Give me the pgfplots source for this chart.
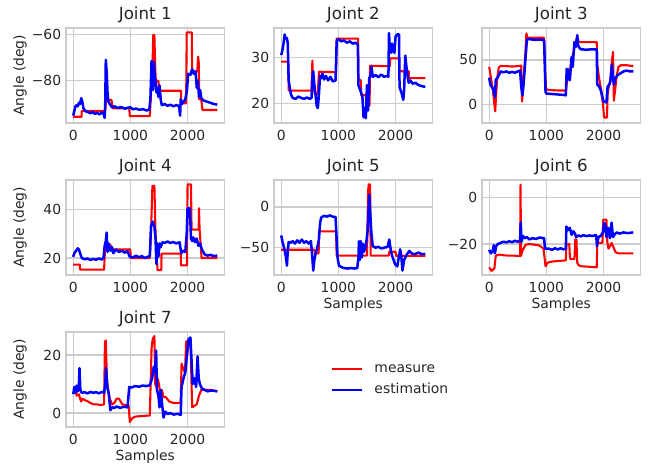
\documentclass[border=0pt]{standalone}
\usepackage{fontspec}
\setmainfont{DejaVu Sans}
\usepackage{pgfplots}
\pgfplotsset{compat=1.18}

\definecolor{gridc}{HTML}{CCCCCC}
\definecolor{txt}{HTML}{262626}
\definecolor{meas}{HTML}{FF0000}
\definecolor{esti}{HTML}{0000FF}

\pgfplotsset{
  joint/.style={
    scale only axis, width=114.12pt, height=68.26pt,
    anchor=north west,
    xmin=-126, xmax=2646,
    xtick={0,1000,2000},
    grid=major,
    major grid style={line width=1pt, color=gridc},
    axis line style={line width=1.25pt, color=gridc},
    major tick length=0pt,
    tick style={draw=none},
    tick label style={font=\fontsize{10}{12}\selectfont, text=txt},
    xticklabel style={yshift=-2pt},
    /pgf/number format/assume math mode=true,
    /pgf/number format/1000 sep={},
    every axis title shift=0pt,
    title style={font=\fontsize{12}{14}\selectfont, text=txt,
      at={(axis description cs:0.5,1.135)}, anchor=center},
    label style={font=\fontsize{10}{12}\selectfont, text=txt},
    ylabel style={at={(axis description cs:-0.29,0.5)}, anchor=center},
    xlabel style={at={(axis description cs:0.5,-0.31)}, anchor=center},
    every axis plot/.append style={line width=1.5pt, line join=round},
  },
}

\begin{document}
\begin{tikzpicture}
\path (0pt,0pt) rectangle (467.28pt,-335.52pt);

% Joint 1
\begin{axis}[joint, at={(47.52pt,-20.16pt)}, title={Joint 1},
  ylabel={Angle (deg)}, ymin=-98.1, ymax=-57.3,
  ytick={-80,-60}, yticklabels={−80,−60}]
\addplot[meas] coordinates {(0,-95.5) (145,-95.5) (150,-93) (560,-93) (575,-88.3) (670,-88.3) (690,-91.9) (980,-91.9) (990,-95.2) (1340,-95.2) (1360,-85) (1385,-75) (1400,-60.3) (1420,-60.3) (1435,-75) (1445,-80) (1490,-80) (1500,-84.3) (1885,-84.3) (1890,-89.7) (1975,-89.7) (1985,-59.2) (2075,-59.2) (2080,-76) (2170,-76) (2185,-69.6) (2195,-72) (2205,-88) (2240,-88) (2260,-92.6) (2520,-92.6)};
\addplot[esti, line width=1.8pt] coordinates {(0,-95) (20,-93) (40,-91) (60,-90.5) (80,-91) (100,-89.5) (120,-90) (140,-87.5) (160,-89) (180,-92) (220,-93.2) (260,-93.5) (300,-94) (340,-93.5) (380,-94.3) (420,-93.8) (460,-94.5) (500,-93.6) (530,-94.2) (550,-96) (560,-90) (570,-71) (585,-76) (600,-85) (615,-89) (640,-90) (680,-91.5) (720,-91) (780,-91.7) (840,-91.3) (900,-92) (960,-91.6) (1000,-91.4) (1040,-92.3) (1100,-92) (1160,-92.5) (1220,-92.2) (1280,-92.8) (1330,-92.5) (1350,-88) (1370,-71.5) (1385,-73) (1395,-84) (1410,-72) (1425,-78) (1440,-80) (1455,-85) (1470,-83) (1490,-87) (1510,-82) (1530,-88) (1550,-90.5) (1600,-90) (1650,-90.8) (1700,-90.3) (1750,-91) (1800,-90.5) (1850,-90.8) (1870,-95) (1880,-88) (1900,-90) (1930,-89) (1960,-88) (1990,-84) (2010,-77) (2050,-77.5) (2080,-75) (2110,-77) (2140,-76) (2160,-83) (2180,-80) (2200,-87) (2220,-84) (2240,-87.5) (2280,-88.5) (2340,-89) (2400,-89.5) (2460,-90) (2520,-90.3)};
\end{axis}

% Joint 2
\begin{axis}[joint, at={(197.28pt,-20.16pt)}, title={Joint 2},
  ymin=15.8, ymax=36.4, ytick={20,30}]
\addplot[meas] coordinates {(0,29.1) (125,29.1) (130,22.8) (530,22.8) (545,29.3) (560,24) (590,22) (640,22) (660,26.9) (960,26.8) (970,34.1) (1345,34.1) (1350,25.1) (1390,25.1) (1400,21.8) (1480,21.8) (1490,19.6) (1545,19.6) (1555,28.2) (1900,28.1) (1905,29.8) (2060,29.8) (2065,27) (2230,27) (2235,25.5) (2520,25.5)};
\addplot[esti, line width=1.8pt] coordinates {(0,30.5) (20,31.5) (40,33) (60,35) (80,34) (100,34.2) (115,33) (130,25) (150,23.5) (170,22) (200,21.2) (250,21) (300,21.5) (350,21.2) (400,21) (450,21.3) (500,21) (530,21.2) (545,25.5) (560,27) (580,24) (600,22) (620,19.5) (640,19) (660,22) (680,26) (700,25.5) (720,26.5) (750,25.2) (780,26) (820,25) (860,25.8) (900,24.8) (950,25) (970,33.5) (1000,34) (1050,33.5) (1100,33.7) (1150,33.2) (1200,33.5) (1250,33) (1300,33.2) (1340,32.8) (1350,24) (1380,23) (1420,21.5) (1440,17) (1460,19) (1480,16.8) (1500,24) (1520,18.5) (1540,25.5) (1560,26) (1580,28) (1600,25.8) (1650,26.2) (1700,25.7) (1750,26.3) (1800,25.8) (1850,26) (1875,25.8) (1885,35.3) (1900,32) (1920,31) (1940,33) (1960,31.5) (1980,31) (2000,34.5) (2030,35) (2060,35) (2070,23.5) (2100,22.5) (2120,21.5) (2135,20.8) (2150,23) (2170,30.4) (2190,28) (2210,26) (2230,24.5) (2260,25) (2300,24.3) (2350,24.5) (2400,24) (2450,23.8) (2520,23.6)};
\end{axis}

% Joint 3
\begin{axis}[joint, at={(347.04pt,-20.16pt)}, title={Joint 3},
  ymin=-21, ymax=86, ytick={0,50}]
\addplot[meas] coordinates {(0,42) (30,30) (60,18) (90,0) (105,-8) (120,10) (140,30) (170,42) (200,43) (300,43) (400,42.5) (500,43) (560,43.5) (575,3) (600,25) (630,55) (650,80) (670,75) (960,75) (975,40) (995,17) (1050,16) (1200,15.5) (1340,15.5) (1360,25) (1380,40) (1400,30) (1430,45) (1460,55) (1480,60) (1510,70) (1540,76) (1570,70) (1700,70) (1880,70) (1890,45) (1920,30) (1960,15) (1990,0) (2010,-15) (2060,-15) (2070,10) (2090,20) (2120,25) (2140,45) (2165,59) (2180,4) (2200,15) (2230,32) (2260,42) (2300,44) (2400,44) (2520,43)};
\addplot[esti, line width=1.8pt] coordinates {(0,30) (20,22) (40,20) (70,17) (100,8) (115,28) (140,29) (170,33) (200,37) (250,36) (300,37) (350,35.5) (400,36.5) (450,35.5) (500,37) (540,38) (560,20) (580,10) (600,22) (630,48) (660,73) (700,73.5) (800,72.5) (900,73) (960,72) (985,14) (1000,12) (1100,11.5) (1200,11) (1300,10.5) (1340,10) (1355,40) (1375,28) (1390,38) (1410,27) (1440,53) (1460,42) (1490,70) (1520,65) (1540,78) (1555,66) (1575,64) (1600,62) (1700,61.5) (1800,62) (1880,62) (1890,22) (1920,20) (1950,16) (1980,8) (2000,3) (2050,2) (2070,20) (2100,22) (2120,27) (2145,45) (2165,30) (2180,22) (2210,30) (2250,33) (2300,35) (2350,37) (2400,38) (2460,37) (2520,37)};
\end{axis}

% Joint 4
\begin{axis}[joint, at={(47.52pt,-129.6pt)}, title={Joint 4},
  ylabel={Angle (deg)}, ymin=13.1, ymax=52.1, ytick={20,40}]
\addplot[meas] coordinates {(0,17.3) (115,17.3) (120,15.2) (540,15.2) (555,23) (570,26) (590,25.5) (650,25.5) (670,23.5) (1000,23.5) (1005,20) (1340,20) (1360,30) (1385,49.7) (1420,49.7) (1440,30) (1460,22) (1475,15) (1540,15) (1545,21.8) (1880,21.8) (1885,17) (1990,17) (2000,50.3) (2060,50.3) (2070,31.7) (2195,31.7) (2200,40.5) (2210,32) (2245,20) (2520,20)};
\addplot[esti, line width=1.8pt] coordinates {(0,20.5) (20,22) (50,23) (80,24) (100,23.5) (120,22) (150,20) (200,19.5) (250,19.8) (300,19.2) (350,19.6) (400,19.3) (450,19.8) (500,19.4) (530,20) (550,25) (570,27) (585,30.5) (600,22.5) (620,26) (650,23) (680,24.5) (700,22) (750,23.5) (800,22.5) (850,23) (900,22.2) (950,22.8) (990,20.5) (1050,20.3) (1100,21) (1150,20.3) (1200,20.8) (1250,20) (1300,20.5) (1340,20.8) (1360,33) (1390,35) (1420,33) (1440,28) (1455,17.5) (1470,26) (1490,20.5) (1510,26) (1530,24.5) (1560,26.5) (1600,26.2) (1650,26.8) (1700,26.2) (1750,26.6) (1800,26) (1860,26.5) (1890,22) (1920,23) (1960,22.5) (1985,30) (2000,40.5) (2040,40.5) (2060,28) (2080,27) (2100,28.5) (2130,26.5) (2160,28) (2190,25) (2220,26) (2250,23.5) (2300,21.5) (2350,21) (2400,21.3) (2460,20.8) (2520,21)};
\end{axis}

% Joint 5
\begin{axis}[joint, at={(197.28pt,-129.6pt)}, title={Joint 5},
  xlabel={Samples}, ymin=-83.2, ymax=32.8,
  ytick={-50,0}, yticklabels={−50,0}]
\addplot[meas] coordinates {(0,-52.5) (580,-52.5) (590,-57) (655,-57) (660,-30) (960,-30) (970,-59.8) (1500,-59.8) (1520,20) (1530,27.5) (1555,27.5) (1565,-59.8) (1880,-59.8) (1890,-55) (2000,-55) (2010,-60) (2520,-60)};
\addplot[esti, line width=1.8pt] coordinates {(0,-35) (20,-42) (50,-50) (80,-60) (100,-72) (115,-55) (130,-43) (170,-44) (200,-42) (240,-45) (280,-41) (320,-44) (360,-40) (400,-44) (440,-42) (480,-45) (520,-42) (540,-58) (560,-78) (580,-65) (600,-58) (630,-50) (660,-40) (680,-20) (700,-13) (750,-11) (800,-12) (850,-10.5) (900,-12) (950,-12.5) (970,-40) (985,-62) (1010,-72) (1060,-74) (1100,-75) (1160,-75.5) (1220,-75) (1280,-75.5) (1330,-75) (1350,-62) (1360,-42) (1375,-65) (1390,-42) (1410,-62) (1430,-45) (1450,-55) (1480,-48) (1510,-30) (1540,15) (1555,-5) (1575,-30) (1600,-48) (1650,-50) (1700,-49) (1750,-51) (1800,-50) (1860,-49) (1890,-40) (1920,-55) (1950,-62) (1990,-70) (2030,-73) (2060,-60) (2080,-52) (2100,-60) (2120,-78) (2150,-65) (2170,-62) (2200,-58) (2240,-54) (2280,-57) (2330,-58) (2400,-56) (2460,-58) (2520,-57.5)};
\end{axis}

% Joint 6
\begin{axis}[joint, at={(347.04pt,-129.6pt)}, title={Joint 6},
  xlabel={Samples}, ymin=-33.2, ymax=7.5,
  ytick={-20,0}, yticklabels={−20,0}]
\addplot[meas] coordinates {(0,-30) (40,-31.5) (90,-30.5) (115,-25) (170,-24.5) (250,-24.8) (350,-25) (450,-25) (540,-25.2) (548,5.5) (556,-25) (580,-23) (620,-21) (640,-20.3) (700,-20) (800,-20.3) (860,-20.5) (900,-21) (950,-22) (985,-29.5) (1020,-28) (1100,-27.5) (1200,-27.3) (1340,-27) (1350,-20) (1400,-20) (1410,-25) (1420,-26.5) (1490,-26.5) (1505,-18) (1525,-18) (1540,-28) (1560,-29) (1600,-29.5) (1880,-30) (1890,-19.5) (1980,-19.5) (1995,-9.5) (2050,-9.5) (2065,-19) (2085,-22) (2100,-21.5) (2140,-19.5) (2180,-21.8) (2210,-23.5) (2260,-24) (2520,-24)};
\addplot[esti, line width=1.8pt] coordinates {(0,-22.5) (30,-24) (60,-23) (80,-20.5) (100,-24) (120,-21) (150,-20) (200,-19.5) (250,-19) (300,-19.3) (350,-18.8) (400,-19.2) (450,-18.6) (500,-19) (540,-18.5) (552,-10.7) (565,-19) (590,-16.5) (620,-17.5) (660,-17) (700,-18) (760,-17.5) (820,-17.8) (880,-17.2) (960,-17.5) (975,-22) (1050,-22) (1100,-22.5) (1150,-21.8) (1200,-22.3) (1250,-21.8) (1300,-22.3) (1340,-22) (1350,-12.5) (1380,-14) (1410,-13) (1440,-16) (1470,-14.5) (1500,-15.5) (1520,-17) (1560,-16.3) (1600,-16.7) (1650,-16.2) (1700,-16.6) (1750,-16.3) (1800,-16.5) (1870,-16.2) (1885,-21) (1910,-17) (1950,-16.5) (1990,-15) (2010,-11) (2030,-11.5) (2050,-17) (2080,-13) (2110,-17.5) (2140,-10.8) (2165,-17) (2190,-16) (2230,-15) (2280,-15.5) (2350,-15) (2420,-15.3) (2520,-15)};
\end{axis}

% Joint 7
\begin{axis}[joint, at={(47.52pt,-239.04pt)}, title={Joint 7},
  ylabel={Angle (deg)}, xlabel={Samples}, ymin=-4.7, ymax=27.9, ytick={0,20},
  legend image code/.code={\draw[#1, line width=1.5pt] (0pt,0pt) -- (21.6pt,0pt);},
  legend style={at={(1.672,0.5)}, anchor=west, draw=none, fill=none,
    inner sep=0pt, column sep=8pt, row sep=5pt,
    font=\fontsize{10}{12}\selectfont, text=txt,
    nodes={inner sep=0pt, text height=7.5pt, text depth=2.5pt},
    cells={anchor=west}}]
\addplot[meas] coordinates {(0,8) (50,8) (60,6) (100,6.5) (120,5) (140,4) (160,5) (200,4.5) (260,4) (300,3.5) (360,3) (420,3) (480,2.8) (540,3) (555,24.5) (570,25) (590,12) (610,8) (640,5) (680,3) (720,3.5) (760,5) (800,5) (830,4) (860,3) (920,2.8) (970,2.5) (990,-3) (1030,-1.8) (1080,-1.2) (1200,-1) (1340,-0.8) (1370,22) (1390,25.5) (1420,26.5) (1435,10) (1455,9) (1475,12) (1500,10) (1520,7) (1550,8) (1580,5.5) (1620,5.5) (1680,4) (1750,3.5) (1880,3.5) (1895,17) (1930,15) (1955,14) (1975,24.5) (2050,25.5) (2080,2) (2120,2.5) (2160,3) (2200,6) (2240,8) (2300,8) (2400,8) (2520,7.5)};
\addplot[esti, line width=1.8pt] coordinates {(0,6.5) (20,9) (40,7) (60,9.5) (80,7.5) (100,10) (110,15.5) (125,8) (150,7) (200,7.2) (250,6.8) (300,7.3) (350,7) (400,7.2) (450,6.8) (500,7.3) (540,7) (560,10) (575,15.5) (595,9) (620,7) (650,1) (680,2) (720,1.8) (760,2.3) (820,1.8) (880,2.2) (950,2) (980,9) (1020,8.8) (1080,9.3) (1150,9.1) (1220,9.5) (1280,9.3) (1340,9.6) (1380,12) (1410,16) (1430,14) (1450,21.5) (1465,8) (1490,6) (1510,2) (1530,8) (1555,3) (1580,-1.5) (1610,0.5) (1650,-0.3) (1700,0) (1760,-0.5) (1820,-0.2) (1880,-0.6) (1895,9) (1930,12) (1960,14) (1990,20) (2020,25.5) (2050,26) (2070,18) (2090,10) (2120,12) (2150,9) (2175,19.5) (2195,12) (2215,10) (2250,8.5) (2300,8) (2350,7.5) (2420,7.8) (2520,7.5)};
\legend{measure, estimation}
\end{axis}
\end{tikzpicture}
\end{document}
